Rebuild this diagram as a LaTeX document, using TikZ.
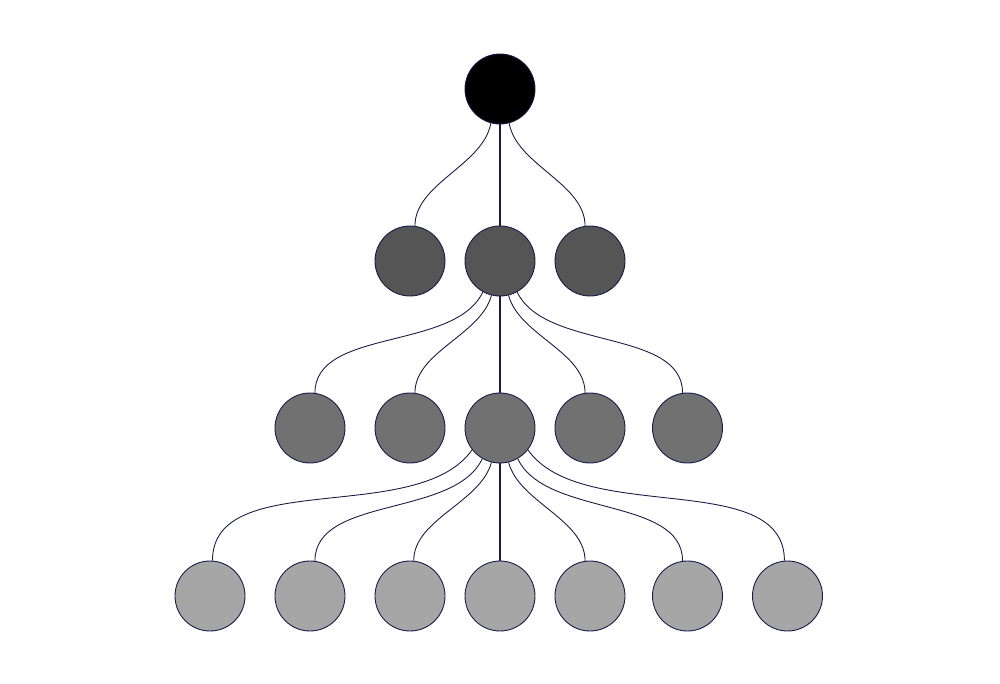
\documentclass[tikz,border=0pt]{standalone}
\usepackage{tikz}
\definecolor{linknavy}{RGB}{25,25,70}
\definecolor{greyone}{RGB}{85,85,85}
\definecolor{greytwo}{RGB}{113,113,113}
\definecolor{greythree}{RGB}{166,166,166}
\tikzset{
    vertex/.style={circle, draw=linknavy, line width=0.5pt, minimum size=1.4cm, inner sep=0pt},
    topnode/.style={vertex, fill=black},
    rankone/.style={vertex, fill=greyone},
    ranktwo/.style={vertex, fill=greytwo},
    rankthree/.style={vertex, fill=greythree},
    stem/.style={draw=linknavy, line width=0.8pt},
    branch/.style={draw=linknavy, line width=0.5pt, looseness=0.85}
}

\begin{document}
\begin{tikzpicture}
\useasboundingbox (0,0) rectangle (20,13.68);
\node[style={topnode}] (r) at (10,11.9) {};
\node[style={rankone}] (a1) at (8.2,8.46) {};
\node[style={rankone}] (a2) at (10,8.46) {};
\node[style={rankone}] (a3) at (11.8,8.46) {};
\node[style={ranktwo}] (b1) at (6.2,5.12) {};
\node[style={ranktwo}] (b2) at (8.2,5.12) {};
\node[style={ranktwo}] (b3) at (10,5.12) {};
\node[style={ranktwo}] (b4) at (11.8,5.12) {};
\node[style={ranktwo}] (b5) at (13.75,5.12) {};
\node[style={rankthree}] (c1) at (4.2,1.76) {};
\node[style={rankthree}] (c2) at (6.2,1.76) {};
\node[style={rankthree}] (c3) at (8.2,1.76) {};
\node[style={rankthree}] (c4) at (10,1.76) {};
\node[style={rankthree}] (c5) at (11.8,1.76) {};
\node[style={rankthree}] (c6) at (13.75,1.76) {};
\node[style={rankthree}] (c7) at (15.75,1.76) {};
% top to first rank
\draw[style={stem}] (r) -- (a2);
\draw[style={branch}] (r.-105) to[out=-100,in=90] (a1.82);
\draw[style={branch}] (r.-75) to[out=-80,in=90] (a3.98);
% first rank to second rank
\draw[style={stem}] (a2) -- (b3);
\draw[style={branch}] (a2.-119) to[out=-115,in=90] (b1.82);
\draw[style={branch}] (a2.-104) to[out=-105,in=90] (b2.82);
\draw[style={branch}] (a2.-76) to[out=-75,in=90] (b4.98);
\draw[style={branch}] (a2.-61) to[out=-65,in=90] (b5.98);
% second rank to third rank
\draw[style={stem}] (b3) -- (c4);
\draw[style={branch}] (b3.-142) to[out=-125,in=90] (c1.86);
\draw[style={branch}] (b3.-120) to[out=-115,in=90] (c2.82);
\draw[style={branch}] (b3.-104) to[out=-105,in=90] (c3.84);
\draw[style={branch}] (b3.-76) to[out=-75,in=90] (c5.98);
\draw[style={branch}] (b3.-60) to[out=-65,in=90] (c6.98);
\draw[style={branch}] (b3.-38) to[out=-55,in=90] (c7.95);
\end{tikzpicture}
\end{document}
